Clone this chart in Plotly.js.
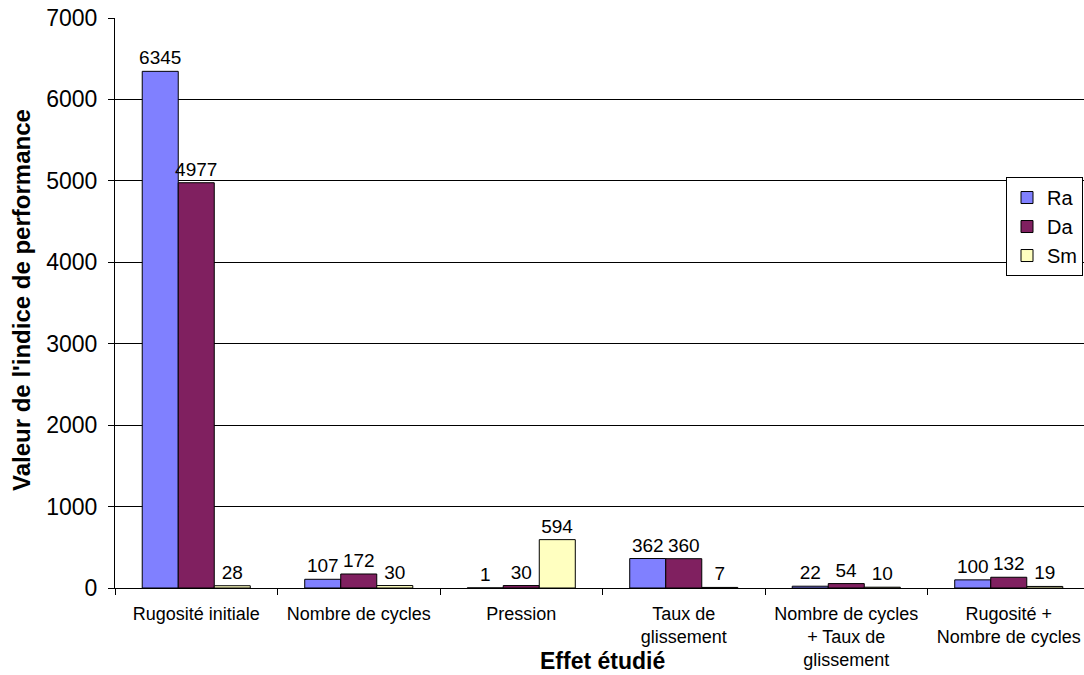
<!DOCTYPE html>
<html>
<head>
<meta charset="utf-8">
<script src="https://cdn.plot.ly/plotly-3.0.1.min.js"></script>
<style>html,body{margin:0;padding:0;background:#fff;}#chart{width:1084px;height:675px;}</style>
</head>
<body>
<div id="chart"></div>
<script>
const categories = ["Rugosité initiale", "Nombre de cycles", "Pression", "Taux de<br>glissement", "Nombre de cycles<br>+ Taux de<br>glissement", "Rugosité +<br>Nombre de cycles"];
const ra = [6345, 107, 1, 362, 22, 100];
const da = [4977, 172, 30, 360, 54, 132];
const sm = [28, 30, 594, 7, 10, 19];
const seriesNames = ["Ra", "Da", "Sm"];
const colors = ["#8080FF", "#802060", "#FFFFC0"];
const yTicks = [0, 1000, 2000, 3000, 4000, 5000, 6000, 7000];

const font = "Arial, 'Liberation Sans', sans-serif";
const traces = [ra, da, sm].map((vals, i) => ({
  type: "bar",
  name: seriesNames[i],
  x: categories,
  y: vals,
  marker: {color: colors[i], line: {color: "#000", width: 1}},
  text: vals.map(String),
  textposition: "outside",
  constraintext: "none",
  cliponaxis: false,
  textfont: {family: font, size: 19, color: "#000"},
  hoverinfo: "x+y+name"
}));

const layout = {
  width: 1084, height: 675,
  margin: {l: 115, r: 0, t: 18, b: 87},
  paper_bgcolor: "#fff", plot_bgcolor: "#fff",
  font: {family: font, color: "#000"},
  barmode: "group",
  bargap: 0.335,
  bargroupgap: 0,
  showlegend: true,
  legend: {
    x: (1006 - 115) / 969, y: 0.721, xanchor: "left", yanchor: "top",
    bgcolor: "#fff", bordercolor: "#000", borderwidth: 1,
    font: {family: font, size: 20, color: "#000"},
    itemwidth: 30, tracegroupgap: 2
  },
  xaxis: {
    type: "category",
    range: [-0.5, 5.463],
    tickson: "boundaries",
    ticks: "outside", ticklen: 6, tickcolor: "#000",
    showline: true, linecolor: "#000", linewidth: 1,
    showgrid: false,
    ticklabelstandoff: 9,
    tickfont: {family: font, size: 18, color: "#000"},
    automargin: false
  },
  yaxis: {
    range: [0, 7000],
    tickvals: yTicks,
    ticktext: yTicks.map(String),
    ticks: "outside", ticklen: 6, tickcolor: "#000",
    showline: true, linecolor: "#000", linewidth: 1,
    showgrid: true, gridcolor: "#000", gridwidth: 1,
    zeroline: false,
    ticklabelstandoff: 6,
    tickfont: {family: font, size: 23, color: "#000"},
    automargin: false
  },
  annotations: [{
    text: "<b>Effet étudié</b>",
    xref: "paper", yref: "paper",
    x: (602 - 115) / 969, y: -(661 - 588) / 570,
    xanchor: "center", yanchor: "middle",
    showarrow: false,
    font: {family: font, size: 23, color: "#000"}
  }, {
    text: "<b>Valeur de l'indice de performance</b>",
    xref: "paper", yref: "paper",
    x: (21 - 115) / 969, y: (588 - 300) / 570,
    xanchor: "center", yanchor: "middle",
    textangle: -90,
    showarrow: false,
    font: {family: font, size: 24, color: "#000"}
  }]
};

Plotly.newPlot("chart", traces, layout, {displayModeBar: false, staticPlot: true});
</script>
</body>
</html>
